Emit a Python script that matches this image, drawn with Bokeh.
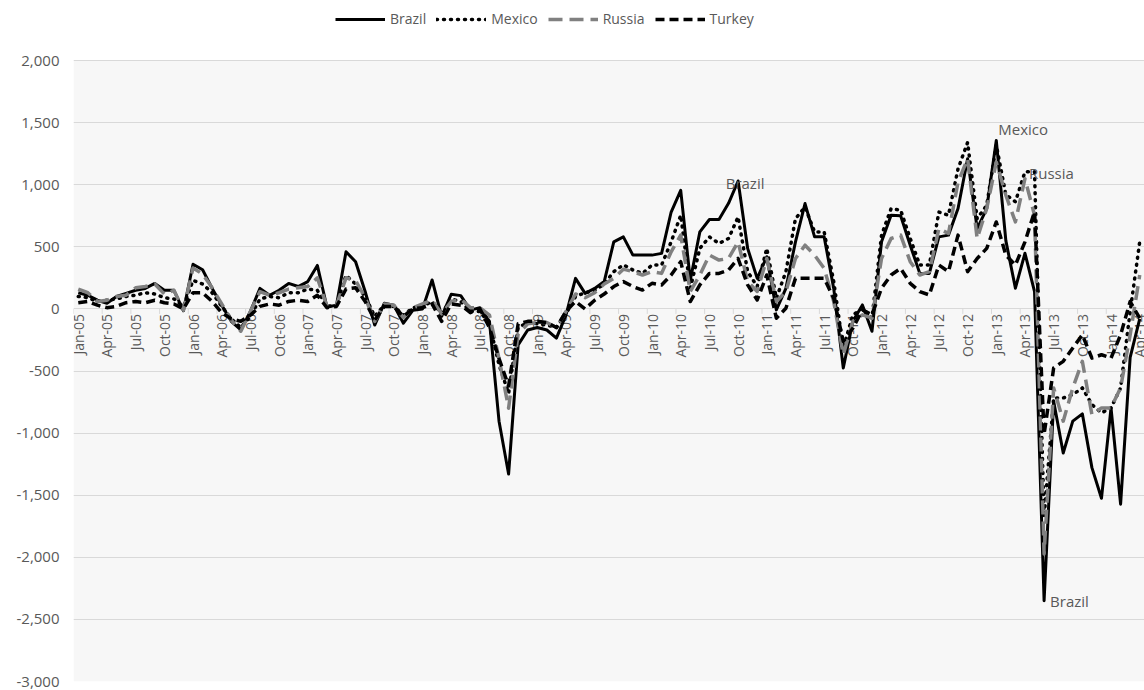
import math
from bokeh.plotting import figure
from bokeh.models import (Range1d, Legend, LegendItem, NumeralTickFormatter,
                          FixedTicker, ColumnDataSource, BoxAnnotation)
from bokeh.core.properties import value
from bokeh.embed import file_html
from bokeh.resources import INLINE

# ---------------- data ----------------
months = ["Jan", "Feb", "Mar", "Apr", "May", "Jun", "Jul", "Aug", "Sep", "Oct", "Nov", "Dec"]
years = list(range(5, 15))
categories = [f"{m}-{y:02d}" for y in years for m in months][:112]   # Jan-05 .. Apr-14

brazil = [130, 110, 70, 45, 100, 125, 150, 165, 205, 150, 150, -15,
          360, 315, 165, 30, -100, -170, -20, 165, 110, 150, 205, 180,
          220, 350, 15, 30, 460, 380, 140, -130, 45, 30, -115, -10,
          0, 233, -60, 118, 107, -10, 10, -100, -904, -1330, -290, -170,
          -150, -170, -235, -50, 246, 125, 165, 220, 540, 580, 433, 433,
          433, 447, 780, 955, 230, 620, 720, 720, 850, 1030, 487, 246,
          420, -8, 165, 540, 848, 580, 580, 165, -476, -100, 32, -180,
          540, 754, 750, 513, 286, 286, 580, 594, 808, 1209, 647, 808,
          1356, 550, 167, 448, 140, -2350, -743, -1160, -904, -845, -1278, -1525,
          -797, -1572, -390, -80]

mexico = [100, 90, 60, 70, 80, 100, 110, 130, 120, 90, 80, 20,
          230, 200, 130, 20, -80, -150, -60, 80, 100, 90, 130, 130,
          160, 150, 20, 30, 270, 200, 100, -60, 30, 20, -50, 10,
          20, 60, -40, 80, 60, -20, -20, -120, -450, -680, -150, -110,
          -120, -130, -150, -40, 100, 130, 150, 200, 300, 355, 313, 286,
          353, 353, 540, 754, 166, 487, 580, 527, 567, 740, 300, 180,
          487, 86, 300, 727, 820, 620, 620, 220, -315, -50, 5, -75,
          594, 808, 795, 567, 353, 353, 780, 754, 1128, 1340, 727, 834,
          1320, 919, 863, 1104, 1104, -1680, -717, -717, -690, -636, -770, -837,
          -797, -636, -21, 540]

russia = [160, 130, 60, 70, 100, 110, 170, 180, 200, 120, 150, -10,
          330, 280, 170, 40, -90, -180, -20, 140, 110, 130, 160, 170,
          180, 250, 20, 30, 250, 230, 90, -100, 40, 30, -70, 10,
          40, 70, -40, 60, 80, 10, 10, -50, -400, -800, -200, -120,
          -110, -110, -150, -20, 120, 90, 130, 200, 246, 320, 300, 273,
          300, 286, 460, 594, 140, 273, 433, 393, 406, 540, 220, 140,
          406, 59, 140, 406, 513, 433, 326, 59, -369, -100, -48, -75,
          406, 567, 594, 380, 273, 300, 647, 607, 1021, 1209, 567, 808,
          1182, 915, 700, 1048, 754, -1973, -636, -904, -636, -422, -850, -797,
          -797, -636, -209, 273]

turkey = [50, 60, 30, 10, 20, 50, 60, 50, 70, 50, 40, 0,
          130, 130, 60, -30, -80, -100, -50, 20, 40, 30, 60, 70,
          60, 110, 10, 20, 160, 170, 60, -90, 20, 20, -60, 0,
          10, 40, -100, 40, 30, -30, 0, -150, -400, -620, -120, -100,
          -100, -110, -150, -20, 60, 0, 70, 120, 180, 220, 180, 152,
          206, 193, 273, 380, 59, 193, 286, 286, 313, 406, 193, 72,
          273, -75, 5, 246, 246, 246, 246, 86, -262, -155, -8, -48,
          166, 273, 326, 206, 139, 112, 353, 300, 594, 300, 406, 487,
          700, 433, 353, 540, 783, -1010, -476, -422, -315, -209, -396, -369,
          -396, -209, 59, -75]

series_names = ["Brazil", "Mexico", "Russia", "Turkey"]
y_min, y_max, y_step = -3000, 2000, 500
y_ticks = list(range(y_min, y_max + 1, y_step))

# data labels: (series, month index)
note_series = ["Brazil", "Mexico", "Russia", "Brazil"]
note_index = [69, 96, 99, 101]

# ---------------- layout ----------------
FONT = "Open Sans"
GREY_TXT = "#595959"
W, H = 1144, 690
LEFT, BOTTOM = 73, 9
LEGEND_SPACE = 60            # px between top of figure and the 2,000 gridline
plot_px = H - BOTTOM - LEGEND_SPACE
y_top = y_max + LEGEND_SPACE * (y_max - y_min) / plot_px

x_idx = list(range(len(categories)))
p = figure(width=W, height=H, output_backend="svg", toolbar_location=None,
           x_range=Range1d(-0.5, len(categories) - 0.5), y_range=Range1d(y_min, y_top),
           min_border_left=LEFT, min_border_right=0, min_border_bottom=BOTTOM,
           min_border_top=0)
p.background_fill_color = "white"
p.border_fill_color = "white"
p.outline_line_color = None
p.xaxis.visible = False
p.xgrid.visible = False

# plot-area fill (only the value band)
p.add_layout(BoxAnnotation(bottom=y_min, top=y_max, fill_color="#f7f7f7", fill_alpha=1,
                           line_color=None, level="image"))

p.yaxis.ticker = FixedTicker(ticks=y_ticks)
p.ygrid.ticker = FixedTicker(ticks=y_ticks)
p.ygrid.grid_line_color = "#d9d9d9"
p.ygrid.grid_line_width = 1
p.yaxis.axis_line_color = None
p.yaxis.major_tick_line_color = None
p.yaxis.minor_tick_line_color = None
p.yaxis.major_label_standoff = 8
p.yaxis.formatter = NumeralTickFormatter(format="0,0")
p.yaxis.major_label_text_font = FONT
p.yaxis.major_label_text_font_size = "15px"
p.yaxis.major_label_text_color = GREY_TXT

# category tick marks and labels along the zero line
tick_pos = [i - 0.5 for i in range(0, len(categories), 3)]
p.ray(x=tick_pos, y=[0] * len(tick_pos), length=5, angle=-math.pi / 2,
      length_units="screen", line_color="#d9d9d9", line_width=1)
lab_idx = list(range(0, len(categories), 3))
lab_src = ColumnDataSource(dict(x=lab_idx, y=[0] * len(lab_idx),
                                t=[categories[i] for i in lab_idx]))
p.text(x="x", y="y", text="t", source=lab_src, angle=math.pi / 2,
       text_align="right", text_baseline="middle", y_offset=5,
       text_font=value(FONT), text_font_size="14px", text_color=GREY_TXT)

r_bra = p.line(x_idx, brazil, line_color="black", line_width=3, line_join="round")
r_mex = p.line(x_idx, mexico, line_color="black", line_width=3.5, line_dash="1 6",
               line_cap="round", line_join="round")
r_rus = p.line(x_idx, russia, line_color="#808080", line_width=3.5, line_dash="14 7",
               line_join="round")
r_tur = p.line(x_idx, turkey, line_color="black", line_width=3.5, line_dash="9 5",
               line_join="round")

data_map = {"Brazil": brazil, "Mexico": mexico, "Russia": russia, "Turkey": turkey}
note_offsets_x = [7, 2, 4, 6]
note_offsets_y = [2, -16, -6, 0]
note_align = ["center", "left", "left", "left"]
for s, i, dx, dy, al in zip(note_series, note_index, note_offsets_x, note_offsets_y, note_align):
    p.text(x=[i], y=[data_map[s][i]], text=[s], x_offset=dx, y_offset=dy,
           text_align=al, text_baseline="middle", text_font=value(FONT),
           text_font_size="15px", text_color=GREY_TXT)

legend = Legend(items=[LegendItem(label=n, renderers=[r]) for n, r in
                       zip(series_names, [r_bra, r_mex, r_rus, r_tur])],
                orientation="horizontal", location=(262, H - BOTTOM - 28),
                border_line_color=None, background_fill_alpha=0,
                label_text_font=FONT, label_text_font_size="14px",
                label_text_color=GREY_TXT, glyph_width=50, glyph_height=16,
                label_height=16, label_standoff=5, spacing=10, padding=0, margin=0)
p.add_layout(legend, "center")

open("out.html", "w").write(file_html(p, INLINE))
